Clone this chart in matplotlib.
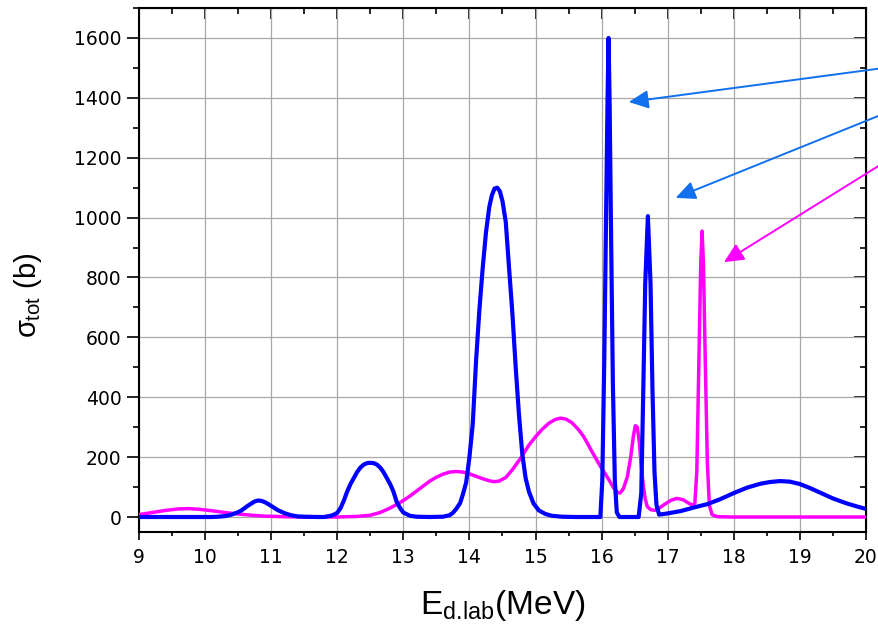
import matplotlib
matplotlib.use("Agg")
import matplotlib.pyplot as plt
from matplotlib.ticker import MultipleLocator

plt.rcParams['font.family'] = ['Liberation Sans', 'DejaVu Sans']
plt.rcParams['mathtext.fontset'] = 'custom'
plt.rcParams['mathtext.rm'] = 'Liberation Sans'
plt.rcParams['mathtext.it'] = 'Liberation Sans'

# --- data ---
blue_x = [9.0, 10.0, 10.1, 10.2, 10.3, 10.4, 10.5, 10.55, 10.6, 10.65, 10.7, 10.75,
          10.8, 10.85, 10.9, 10.95, 11.0, 11.05, 11.1, 11.2, 11.3, 11.4, 11.5, 11.7,
          11.8, 11.9, 11.95, 12.0, 12.05, 12.1, 12.15, 12.2, 12.25, 12.3, 12.35, 12.4,
          12.45, 12.5, 12.55, 12.6, 12.65, 12.7, 12.75, 12.8, 12.85, 12.9, 12.95, 13.0,
          13.1, 13.2, 13.4, 13.6, 13.7, 13.75, 13.8, 13.86, 13.9, 13.95, 14.0, 14.05,
          14.1, 14.15, 14.2, 14.25, 14.3, 14.34, 14.38, 14.42, 14.46, 14.5, 14.55, 14.6,
          14.65, 14.7, 14.75, 14.8, 14.85, 14.9, 14.97, 15.05, 15.15, 15.25, 15.4, 15.6,
          15.98, 16.01, 16.04, 16.07, 16.09, 16.105, 16.12, 16.14, 16.17, 16.2, 16.23, 16.27,
          16.56, 16.6, 16.63, 16.66, 16.7, 16.74, 16.77, 16.8, 16.83, 16.87, 17.0, 17.2,
          17.4, 17.6, 17.8, 18.0, 18.2, 18.4, 18.55, 18.7, 18.85, 19.0, 19.15, 19.32,
          19.5, 19.7, 19.85, 20.0]
blue_y = [0, 0, 0, 1, 3, 8, 16, 22, 30, 38, 45, 52,
          55, 54, 50, 44, 37, 30, 23, 13, 6, 2, 1, 0,
          0, 4, 8, 14, 30, 55, 85, 110, 130, 150, 165, 175,
          180, 181, 180, 175, 165, 150, 130, 110, 85, 50, 30, 15,
          4, 1, 0, 1, 6, 14, 27, 47, 75, 115, 200, 310,
          520, 690, 830, 950, 1035, 1075, 1097, 1100, 1088, 1055, 985, 830,
          680, 500, 340, 210, 130, 85, 45, 22, 10, 4, 1, 0,
          0, 120, 520, 1050, 1400, 1600, 1400, 1000, 450, 120, 15, 0,
          0, 80, 420, 780, 1005, 780, 420, 150, 40, 8, 12, 20,
          32, 43, 60, 80, 98, 111, 117, 120, 118, 110, 97, 80,
          62, 46, 36, 27]

mag_x = [9.0, 9.2, 9.4, 9.6, 9.75, 9.9, 10.1, 10.3, 10.5, 10.7, 10.9, 11.2, 11.5,
         12.0, 12.3, 12.5, 12.65, 12.8, 12.95, 13.1, 13.25, 13.4, 13.5, 13.6, 13.7, 13.8,
         13.9, 14.0, 14.1, 14.2, 14.3, 14.37, 14.45, 14.55, 14.65, 14.77, 14.9, 15.0,
         15.1, 15.2, 15.3, 15.38, 15.46, 15.55, 15.65, 15.73, 15.85, 15.98, 16.1, 16.18,
         16.24, 16.28, 16.33, 16.39, 16.44, 16.48, 16.51, 16.54, 16.57, 16.6, 16.63,
         16.66, 16.69, 16.74, 16.8, 16.86, 16.95, 17.05, 17.14, 17.23, 17.31, 17.37,
         17.41, 17.44, 17.47, 17.5, 17.52, 17.54, 17.57, 17.6, 17.63, 17.67, 17.75,
         18.0, 20.0]
mag_y = [8, 15, 22, 27, 28, 26, 21, 15, 10, 6, 3, 1, 0,
         0, 2, 6, 15, 30, 48, 70, 95, 120, 133, 143, 150, 152,
         150, 144, 136, 128, 121, 118, 120, 132, 158, 195, 240, 268,
         293, 313, 326, 330, 327, 315, 292, 268, 220, 170, 128, 98,
         82, 80, 95, 135, 200, 270, 305, 300, 250, 170, 105,
         60, 35, 25, 22, 28, 42, 56, 62, 58, 47, 40,
         45, 150, 500, 850, 955, 850, 500, 180, 40, 8, 1,
         0, 0]

x_ticks = list(range(9, 21))
y_ticks = list(range(0, 1601, 200))

# arrows: (head x, head y, tail x, tail y, colour) in data units
arrows = [
    (16.41, 1386, 20.55, 1508, '#1170ee'),
    (17.12, 1066, 20.55, 1372, '#1170ee'),
    (17.85, 851, 20.55, 1222, '#ff00ff'),
]

fig = plt.figure(figsize=(8.79, 6.26), dpi=100)
ax = fig.add_axes([0.1581, 0.1502, 0.8271, 0.8370])

ax.plot(mag_x, mag_y, color='#ff00ff', lw=2.5, solid_joinstyle='round', zorder=3)
ax.plot(blue_x, blue_y, color='#0000ff', lw=3.0, solid_joinstyle='round', zorder=4)

ax.set_xlim(9, 20)
ax.set_ylim(-50, 1700)
ax.set_xticks(x_ticks)
ax.set_yticks(y_ticks)
ax.xaxis.set_minor_locator(MultipleLocator(0.5))
ax.yaxis.set_minor_locator(MultipleLocator(100))
ax.grid(True, which='major', color='#a8a8a8', lw=0.9)
ax.set_axisbelow(True)

for s in ax.spines.values():
    s.set_linewidth(1.5)
ax.tick_params(axis='both', which='both', labelsize=13.5, width=1.2, direction='out')
ax.tick_params(axis='y', which='major', length=9)
ax.tick_params(axis='y', which='minor', length=4.5)
ax.tick_params(axis='x', which='major', length=5.5, pad=6)
ax.tick_params(axis='x', which='minor', length=3)
for lab in ax.get_xticklabels() + ax.get_yticklabels():
    lab.set_fontfamily('DejaVu Sans')

# inward ticks on top and right
top = ax.secondary_xaxis('top')
top.set_xticks(x_ticks)
top.xaxis.set_minor_locator(MultipleLocator(0.5))
top.tick_params(which='both', direction='in', labeltop=False, width=1.2)
top.tick_params(which='major', length=8)
top.tick_params(which='minor', length=4.5)
right = ax.secondary_yaxis('right')
right.set_yticks(y_ticks)
right.yaxis.set_minor_locator(MultipleLocator(100))
right.tick_params(which='both', direction='in', labelright=False, width=1.2)
right.tick_params(which='major', length=9)
right.tick_params(which='minor', length=4.5)

ax.set_xlabel(r'E$_{\mathrm{d}.\!\mathrm{lab}}$(MeV)', fontsize=24, labelpad=15)
fig.text(28 / 879, 1 - 295 / 626, r'$\sigma_{\mathrm{tot}}$ (b)', fontsize=21,
         rotation=90, ha='center', va='center')

for hx, hy, tx, ty, c in arrows:
    ax.annotate('', xy=(hx, hy), xytext=(tx, ty), annotation_clip=False,
                arrowprops=dict(arrowstyle='-|>,head_length=0.6,head_width=0.28',
                                color=c, lw=1.4, mutation_scale=20,
                                shrinkA=0, shrinkB=0))

fig.savefig('out.png', dpi=100)
